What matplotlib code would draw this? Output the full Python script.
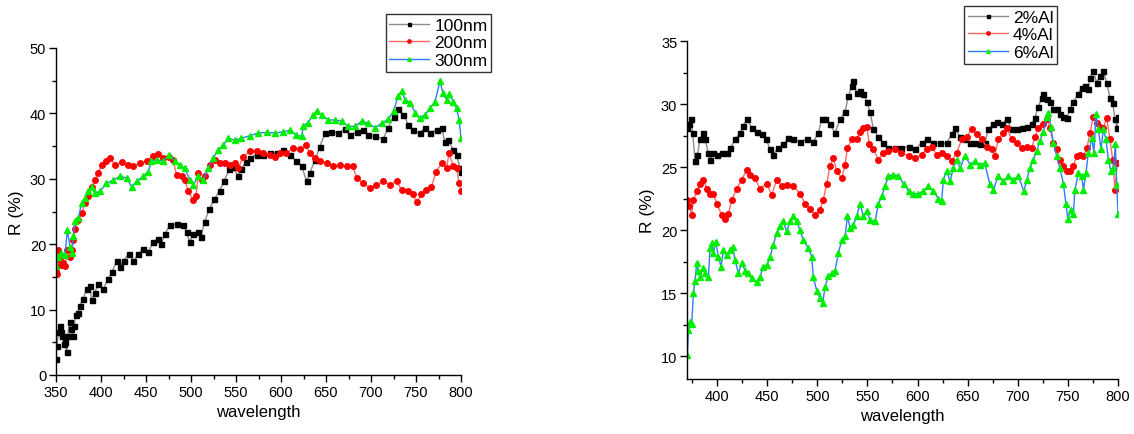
import matplotlib
matplotlib.use("Agg")
import matplotlib.pyplot as plt
from matplotlib.ticker import MultipleLocator

plt.rcParams['font.family'] = ['Liberation Sans', 'DejaVu Sans']

# ---------------- left panel data ----------------
wl_100 = [350, 351, 353, 354, 356, 357, 359, 360, 362, 363, 365, 367, 368.5, 370, 372, 374, 376.5, 380, 384, 387.6,
          389.5, 393, 397, 402.5, 408, 412, 417.5, 421, 425, 430.6, 436, 441.6, 447, 452.5, 458, 463.6, 467, 471,
          476.5, 484, 491, 495, 498.6, 502, 507.7, 511, 515, 520.5, 526, 531.7, 537, 542.7, 546, 552, 555.5, 561,
          565.6, 573, 580, 587.8, 595, 602.6, 610, 617, 623, 628.5, 632, 638, 643, 649, 656, 663.7, 671, 676.7,
          684, 691.5, 697, 704.4, 713.7, 719, 725, 730, 736, 741.5, 747, 754, 760, 765.6, 773, 778.5, 782, 786,
          791.5, 795, 799, 800]
r_100 = [2.5, 4.5, 6.5, 7.5, 6.5, 5.9, 4.8, 5.0, 3.5, 6.0, 8.1, 7.0, 6.0, 7.5, 9.1, 9.5, 10.6, 11.6, 13.1, 13.6,
         11.4, 12.6, 13.9, 13.1, 14.7, 15.7, 17.5, 16.5, 17.5, 18.5, 17.5, 18.5, 19.3, 18.8, 20.3, 20.8, 20.1, 21.6,
         22.9, 23.1, 22.9, 21.9, 20.3, 21.6, 21.9, 21.1, 23.4, 25.4, 26.9, 28.2, 29.7, 31.5, 31.8, 30.5, 31.5, 32.5,
         33.2, 33.7, 33.7, 33.9, 33.9, 34.4, 33.7, 32.7, 31.9, 29.6, 30.9, 32.9, 34.9, 37.0, 37.2, 37.0, 37.6, 36.7,
         37.2, 37.5, 36.7, 36.5, 36.1, 37.8, 39.5, 40.6, 39.8, 38.3, 37.5, 37.0, 37.8, 37.0, 37.5, 37.8, 35.7, 36.0,
         34.4, 33.7, 31.6, 31.0]

wl_200 = [350, 351, 352.6, 354.4, 356, 358, 360, 362.6, 365.6, 367.4, 369.3, 371, 374.8, 378.5, 382, 386, 389.6,
          393, 397, 400.7, 406, 410, 415.6, 423, 430, 436, 443, 450.7, 458, 463.7, 469, 475, 480, 484, 489.6,
          493, 497, 502, 505.6, 508, 512, 515.6, 521, 526.7, 532, 537.8, 543, 549, 552.6, 558, 565.6, 573, 580,
          587.8, 593, 599, 606, 613.7, 621, 627.8, 632, 638, 643, 650.7, 658, 665.6, 673, 680, 684, 691.5, 699,
          706, 713.7, 721, 728.5, 734, 741.5, 747, 750.7, 756, 761.5, 767, 772.6, 778.5, 784, 786.7, 791.5, 795,
          798, 800]
r_200 = [16.1, 15.5, 19.1, 17.6, 16.8, 17.2, 16.6, 19.1, 18.1, 19.1, 20.7, 22.4, 23.7, 24.7, 26.3, 27.3, 28.8,
         29.8, 30.9, 32.1, 32.7, 33.2, 32.1, 32.5, 32.1, 31.9, 32.4, 32.7, 33.5, 33.8, 33.2, 33.4, 32.9, 30.6, 30.4,
         29.8, 28.1, 26.8, 27.3, 30.9, 29.8, 30.4, 32.1, 32.9, 32.4, 32.4, 32.1, 32.4, 31.6, 33.4, 34.2, 34.2, 33.9,
         33.7, 33.4, 33.9, 33.9, 34.7, 34.5, 35.1, 33.9, 33.2, 32.7, 32.4, 32.0, 32.1, 32.0, 31.9, 30.1, 29.3, 28.6,
         29.1, 29.6, 29.1, 29.6, 28.3, 28.1, 27.6, 26.4, 27.6, 28.3, 28.8, 31.1, 32.4, 31.6, 33.9, 31.9, 31.6,
         29.3, 28.1]

wl_300 = [350, 352.6, 356, 360, 362.6, 365.6, 367.4, 369.3, 371, 374.8, 378.5, 382, 386, 389.6, 393, 399, 406,
          413.7, 421, 428.5, 434, 439.6, 447, 452.6, 456, 462, 469, 476, 482, 487.8, 493, 499, 502.6, 508, 513.7,
          519, 524.8, 530, 536, 541.5, 549, 556, 565.6, 574.8, 584, 593, 602.6, 610, 617, 623, 624.8, 630, 636,
          639.6, 645, 652.6, 660, 667.4, 674.8, 682, 689.6, 697, 704.4, 712, 719, 725, 730, 734, 737.8, 743.7,
          749, 754, 760, 765.6, 771, 776.7, 780, 784, 787, 791.5, 795, 798, 800]
r_300 = [16.6, 18.1, 18.6, 18.4, 22.2, 19.6, 18.6, 21.2, 23.5, 24.0, 26.3, 27.0, 28.1, 28.8, 27.8, 28.1, 29.3,
         29.8, 30.4, 30.1, 28.8, 29.6, 30.4, 31.1, 32.7, 32.9, 32.7, 33.7, 32.7, 32.1, 31.6, 29.8, 29.1, 30.4, 29.8,
         31.6, 33.2, 34.4, 35.2, 36.2, 35.9, 36.2, 36.6, 37.0, 37.1, 37.0, 37.2, 37.4, 36.7, 36.5, 38.1, 38.6, 39.8,
         40.3, 39.8, 39.0, 39.0, 38.8, 38.0, 38.0, 38.8, 38.5, 37.8, 38.5, 39.1, 40.3, 42.6, 43.4, 42.1, 41.6,
         40.1, 39.3, 39.8, 40.8, 41.8, 44.9, 43.1, 42.1, 42.9, 41.8, 40.8, 39.0, 36.2]

# ---------------- right panel data ----------------
wl_2al = [370.4, 372.4, 374, 375.7, 378, 380.4, 383, 385.7, 388, 391.4, 393, 395.7, 399.7, 404.7, 409.6, 413, 418,
          423, 426, 430, 434.6, 439.6, 444.6, 449, 453, 456, 461, 466, 471, 476, 482.8, 489.4, 496, 501, 504.4,
          507.7, 512.7, 517.7, 522.7, 527.7, 531, 534.3, 536, 539.3, 542.6, 546, 549.3, 552.6, 556, 561, 566, 571,
          577.5, 584, 591, 597.5, 604, 609, 615.8, 622.4, 629, 634, 637.4, 642.4, 647.4, 652.4, 657.4, 662, 667,
          670.7, 675.6, 679, 684, 689, 694, 699, 704, 709, 714, 717, 720.5, 724, 725.5, 729, 732, 735.5, 738.8,
          742, 745.5, 749, 752, 755.5, 760.4, 763.8, 767, 770.4, 772, 775.4, 778.7, 782, 785.4, 788.7, 792,
          794.7, 797, 799.3, 800]
r_2al = [28.1, 28.4, 28.8, 27.7, 25.5, 26.0, 27.2, 27.7, 27.2, 26.1, 25.6, 26.1, 26.0, 26.1, 26.1, 26.5, 27.2,
         27.7, 28.3, 28.8, 28.1, 27.8, 27.6, 27.2, 26.4, 26.0, 26.5, 26.8, 27.3, 27.2, 27.0, 27.2, 27.0, 27.7, 28.8,
         28.8, 28.4, 27.7, 28.8, 29.4, 30.6, 31.4, 31.8, 30.9, 31.0, 30.8, 30.2, 29.4, 28.0, 27.4, 26.9, 26.5, 26.5,
         26.5, 26.6, 26.4, 26.9, 27.2, 26.9, 26.9, 26.9, 27.6, 28.1, 27.4, 27.2, 26.9, 26.9, 26.8, 26.9, 28.0, 28.4,
         28.6, 28.4, 28.8, 28.0, 28.0, 28.1, 28.2, 28.4, 28.9, 29.8, 30.5, 30.8, 30.4, 30.2, 29.6, 29.6, 29.2, 29.0,
         28.9, 29.6, 30.2, 30.8, 31.3, 31.4, 31.2, 32.1, 32.6, 31.7, 32.2, 32.6, 31.7, 30.5, 30.1, 28.8, 28.1, 29.0]

wl_4al = [370.4, 372.4, 374.7, 376.4, 379.7, 383, 386.4, 389.7, 393, 396.3, 399.7, 404.7, 408, 411.3, 414.6, 419.6,
          424.6, 429.6, 433, 437.9, 442.9, 449.5, 454.5, 459.5, 464.5, 469.5, 476, 482.8, 487.8, 492.8, 497.8,
          502.7, 506, 509.4, 512.7, 516, 519.4, 524.4, 527.7, 530, 534.3, 539.3, 542.6, 546, 549.3, 552, 556, 561,
          566, 571, 577.5, 584, 591, 597.5, 604, 609, 614, 619, 624, 629, 634, 639, 644, 649, 654, 659, 664, 669,
          674, 677, 680.6, 685.6, 689, 694, 699, 704, 709, 714, 717, 720.5, 725.5, 729, 732, 735.5, 738.8, 742,
          745.5, 749, 752, 755.5, 758.8, 762, 765.5, 769, 772, 775.4, 778.7, 782, 785.4, 788.7, 792, 794.7, 797,
          799.3, 800]
r_4al = [22.4, 21.9, 21.2, 22.4, 23.1, 23.7, 24.0, 23.3, 22.9, 22.9, 22.1, 21.2, 20.9, 21.3, 22.4, 23.3, 24.0,
         24.8, 24.4, 24.1, 23.3, 23.7, 22.8, 24.0, 23.5, 23.6, 23.5, 22.9, 22.1, 21.7, 21.2, 21.6, 22.4, 23.7, 25.1,
         25.7, 24.7, 24.1, 25.2, 26.5, 27.2, 27.2, 27.8, 28.1, 28.2, 26.8, 26.4, 25.6, 26.1, 26.3, 26.4, 26.1, 25.9,
         25.7, 26.0, 26.4, 26.6, 26.0, 26.1, 25.9, 25.5, 26.1, 27.2, 27.4, 28.0, 27.6, 27.2, 26.6, 26.4, 25.9, 27.2,
         27.7, 28.1, 27.2, 26.9, 26.5, 26.6, 26.5, 27.4, 28.1, 28.4, 28.8, 28.1, 26.9, 26.4, 25.6, 25.1, 24.7, 24.7,
         25.1, 25.9, 26.0, 25.9, 26.5, 27.7, 29.0, 28.5, 28.2, 28.1, 28.9, 27.2, 25.6, 23.2, 25.3, 25.3]

wl_6al = [370.4, 371.4, 373, 374.7, 376.4, 378, 379.7, 381.4, 383, 385.7, 388, 391.4, 393, 394.7, 396.3, 398.7,
          401.3, 404, 406.3, 409.6, 413, 415.6, 418, 421.3, 424.6, 428, 431, 434.6, 439.6, 443, 446, 449.5, 453,
          456, 459.5, 463, 466, 469.5, 472.8, 476, 479.5, 482.8, 486, 491, 494.4, 496, 499.4, 502.7, 505.4, 507.7,
          511, 514.4, 517.7, 521, 524.4, 527.7, 530, 532.7, 536, 539.3, 542.6, 546, 549.3, 552.6, 557.6, 561, 564.3,
          567.6, 571, 576, 581, 586, 591, 595.8, 600.8, 605.8, 610.8, 615.8, 620.8, 624, 625.8, 629, 632.4, 635.7,
          639, 642.4, 647.4, 652.4, 657.4, 662, 667, 672, 675.6, 680.6, 685.6, 690.6, 695.6, 700.6, 706, 709, 712,
          715.5, 719, 722, 725.5, 729, 730.5, 733, 735.5, 738.8, 742, 745.5, 748, 750, 752.8, 755.5, 757, 760.4,
          763.8, 765.5, 768, 770.4, 774, 776, 778, 780.5, 783, 785.4, 788, 790.4, 792.8, 795.4, 797.4, 798.7, 800]
r_6al = [10.1, 12.1, 12.7, 12.6, 15.0, 16.0, 17.4, 16.8, 16.3, 17.0, 16.6, 16.3, 18.6, 19.0, 18.2, 19.1, 17.9,
         17.1, 18.4, 18.0, 18.4, 18.7, 17.6, 16.6, 17.4, 16.8, 16.6, 16.2, 15.9, 16.3, 17.1, 17.2, 17.9, 18.8, 19.8,
         20.3, 20.7, 19.9, 20.7, 21.1, 20.7, 20.0, 19.2, 18.6, 17.9, 16.3, 15.2, 14.6, 14.2, 15.5, 16.4, 16.6, 16.8,
         18.2, 19.2, 19.5, 21.1, 20.2, 20.4, 21.1, 22.1, 21.1, 21.5, 20.8, 20.7, 22.1, 22.7, 23.5, 24.3, 24.4, 24.3,
         23.7, 23.1, 22.9, 22.9, 23.1, 23.5, 23.1, 22.5, 22.3, 24.0, 24.7, 23.9, 24.9, 25.6, 24.9, 25.9, 25.2, 25.5,
         25.2, 25.3, 23.7, 23.2, 24.3, 23.9, 24.3, 24.0, 24.3, 23.1, 24.0, 24.9, 25.6, 26.3, 27.1, 27.8, 29.0, 29.3,
         28.2, 26.9, 25.9, 24.9, 23.7, 22.1, 20.9, 21.6, 21.3, 23.2, 24.5, 24.3, 23.2, 24.5, 26.1, 27.3, 26.1, 29.2,
         28.0, 26.4, 28.0, 27.2, 25.6, 24.7, 24.9, 26.8, 23.6, 21.3]

labels_left = ['100nm', '200nm', '300nm']
labels_right = ['2%Al', '4%Al', '6%Al']
xticks = [350, 400, 450, 500, 550, 600, 650, 700, 750, 800]
xticks_right = [400, 450, 500, 550, 600, 650, 700, 750, 800]

styles = [
    dict(color='#8c8c8c', marker='s', mfc='black', mec='black', ms=3.6),
    dict(color='#ff6a6a', marker='o', mfc='#ff0000', mec='#ff0000', ms=4.0),
    dict(color='#2f7bff', marker='^', mfc='#00ee00', mec='#00ee00', ms=4.4),
]

W, H = 1134, 435
fig = plt.figure(figsize=(W / 100, H / 100), dpi=100)

axL = fig.add_axes([56 / W, 1 - 376 / H, (461 - 56) / W, (376 - 49) / H])
axR = fig.add_axes([687 / W, 1 - 380 / H, (1118 - 687) / W, (380 - 42) / H])


def style_axes(ax):
    for s in ['top', 'right']:
        ax.spines[s].set_visible(False)
    for s in ['left', 'bottom']:
        ax.spines[s].set_linewidth(1.0)
    ax.tick_params(which='major', direction='out', length=5, width=1, labelsize=10.5, pad=2)
    ax.tick_params(which='minor', direction='out', length=3, width=1)
    ax.set_xlabel('wavelength', fontsize=12, labelpad=4)
    ax.set_ylabel('R (%)', fontsize=12.5, labelpad=4)


# left
for x, y, lab, st in zip([wl_100, wl_200, wl_300], [r_100, r_200, r_300], labels_left, styles):
    axL.plot(x, y, lw=1.0, label=lab, **st)
axL.set_xlim(350, 800)
axL.set_ylim(0, 50)
axL.set_xticks(xticks)
axL.xaxis.set_minor_locator(MultipleLocator(25))
axL.yaxis.set_major_locator(MultipleLocator(10))
axL.yaxis.set_minor_locator(MultipleLocator(5))
style_axes(axL)

# right
for x, y, lab, st in zip([wl_2al, wl_4al, wl_6al], [r_2al, r_4al, r_6al], labels_right, styles):
    axR.plot(x, y, lw=1.0, label=lab, **st)
axR.set_xlim(370, 800)
axR.set_ylim(8.2, 35)
axR.set_xticks(xticks_right)
axR.xaxis.set_minor_locator(MultipleLocator(25))
axR.yaxis.set_major_locator(MultipleLocator(5))
axR.yaxis.set_minor_locator(MultipleLocator(2.5))
style_axes(axR)


def add_legend(ax, right_px, top_px):
    leg = ax.legend(loc='upper right', bbox_to_anchor=(right_px / W, 1 - top_px / H),
                    bbox_transform=fig.transFigure, fontsize=12.5, frameon=True, fancybox=False,
                    edgecolor='black', borderaxespad=0, borderpad=0.2, labelspacing=0.15,
                    handlelength=2.3, handletextpad=0.3, markerscale=0.6)
    leg.get_frame().set_linewidth(1.0)
    return leg


add_legend(axL, 491, 15)
add_legend(axR, 1057, 7)

fig.savefig('out.png', dpi=100)
